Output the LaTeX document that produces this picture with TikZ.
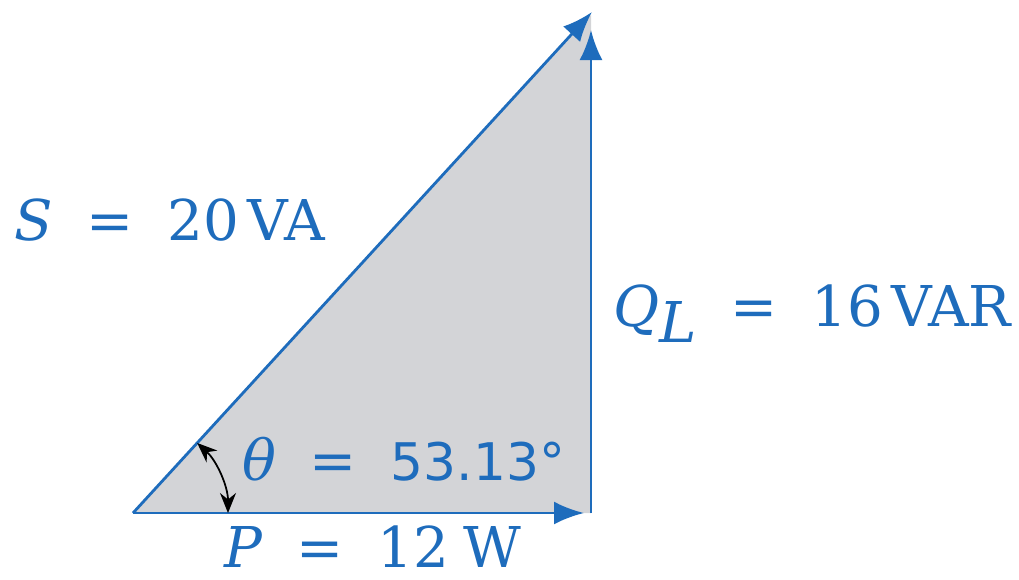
\documentclass[tikz,border=0pt]{standalone}
\usepackage{fontspec}
\setmainfont{DejaVu Serif}
\newfontfamily\numfont{DejaVu Sans}
\usetikzlibrary{arrows.meta,calc}
\definecolor{vblue}{RGB}{30,108,188}
\definecolor{vgray}{RGB}{211,212,215}
\newcommand{\eqs}{\hspace{0.6em}=\hspace{0.6em}}

\begin{document}
\begin{tikzpicture}[x=0.2mm,y=-0.2mm,
    vec/.style={draw=vblue,line width=1.6pt,-{Latex[length=6mm,width=4.6mm]}},
    lbl/.style={text=vblue,font=\fontsize{32}{36}\selectfont,anchor=base west,inner sep=0pt}]
    \useasboundingbox (0,0) rectangle (1019,579);

    % Вершини трикутника потужностей
    \coordinate (O) at (133,513);
    \coordinate (R) at (591,513);
    \coordinate (T) at (592,12);
    \coordinate (Pt) at (584,513);
    \coordinate (Qt) at (591,30);

    % Заливка
    \fill[vgray] (O) -- (R) -- (591,15) -- cycle;

    % Вектори
    \draw[vec] (O) -- (Pt);
    \draw[vec] (R) -- (Qt);
    \draw[vec] (O) -- (T);

    % Кут theta
    \draw[line width=1pt,{Stealth[length=4mm,width=3.2mm]}-{Stealth[length=4mm,width=3.2mm]}]
        ($(O)+(95,0)$) arc[start angle=0,end angle=-47.5,radius=95];

    % Підписи
    \node[lbl] (s) at (14,240) {\textit{S}\eqs20\hspace{0.15em}VA};
    \node[lbl] (q) at (613,326) {\textit{Q}\raisebox{-0.3em}{\textit{L}}\eqs16\hspace{0.15em}VAR};
    \node[lbl] (th) at (242,480) {\textit{θ}\eqs{\numfont\fontsize{29.5}{36}\selectfont 53.13°}};
    \node[lbl] (p) at (224,567) {\textit{P}\eqs12\hspace{0.25em}W};
\end{tikzpicture}
\end{document}
